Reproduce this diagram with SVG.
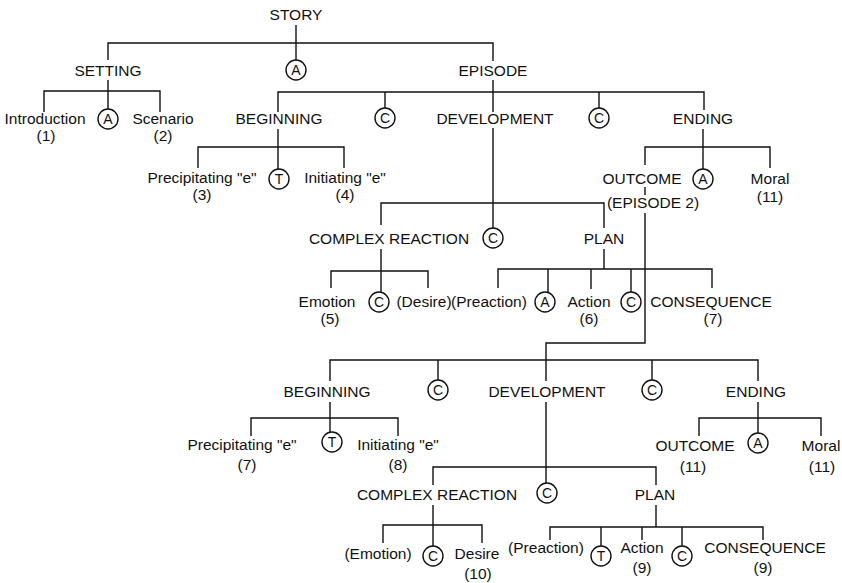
<svg xmlns="http://www.w3.org/2000/svg" width="842" height="583" viewBox="0 0 842 583">
<style>
text{font-family:"Liberation Sans",Arial,Helvetica,sans-serif;font-size:15.5px;fill:#111;text-anchor:middle}
text.s{font-size:14px}
.ln{fill:none;stroke:#111;stroke-width:1.4}
.cc{fill:#fff;stroke:#111;stroke-width:1.4}
</style>
<rect width="842" height="583" fill="#fff"/>
<g id="connectors" class="ln">
<path d="M296 25V61M108 60V43H493V61"/>
<path d="M108 80V110M44 112V91H160V112"/>
<path d="M493 80V112M278 112V92H704V110M385 92V109M599 92V109"/>
<path d="M278 129V170M198 168V147H344V168"/>
<path d="M703 129V170M645 165V147H770V168"/>
<path d="M645 187V195M645 213V343H546V381"/>
<path d="M493 128V229M381 225V203H604V228"/>
<path d="M381 249V293M331 288V271H428V288"/>
<path d="M604 249V269M498 288V269H712V288M548 269V293M591 269V289M631 269V293"/>
<path d="M330 381V360H758V381M438 360V381M652 360V381"/>
<path d="M330 402V433M251 436V418H398V436"/>
<path d="M758 402V434M699 436V418H821V436"/>
<path d="M546 402V484M433 485V467H656V485"/>
<path d="M433 505V547M383 543V525H482V543"/>
<path d="M656 505V527M550 540V527H763V540M601 527V547M642 527V540M682 527V547"/>
</g>
<g id="story"><text x="296" y="20">STORY</text></g>
<g id="a0"><circle class="cc" cx="296" cy="70" r="10"/><text class="s" x="296" y="75">A</text></g>
<g id="setting"><text x="108" y="76">SETTING</text></g>
<g id="episode"><text x="493" y="76">EPISODE</text></g>
<g id="introduction"><text x="45" y="124">Introduction</text><text x="46" y="141">(1)</text></g>
<g id="a1"><circle class="cc" cx="108" cy="119" r="10"/><text class="s" x="108" y="124">A</text></g>
<g id="scenario"><text x="163" y="124">Scenario</text><text x="163" y="141">(2)</text></g>
<g id="beginning1"><text x="279" y="124">BEGINNING</text></g>
<g id="c1"><circle class="cc" cx="385" cy="118" r="10"/><text class="s" x="385" y="123">C</text></g>
<g id="development1"><text x="495" y="124">DEVELOPMENT</text></g>
<g id="c2"><circle class="cc" cx="599" cy="118" r="10"/><text class="s" x="599" y="123">C</text></g>
<g id="ending1"><text x="703" y="124">ENDING</text></g>
<g id="precipitating1"><text x="202" y="183">Precipitating "e"</text><text x="202" y="200">(3)</text></g>
<g id="t1"><circle class="cc" cx="279" cy="179" r="10"/><text class="s" x="279" y="184">T</text></g>
<g id="initiating1"><text x="345" y="183">Initiating "e"</text><text x="345" y="200">(4)</text></g>
<g id="outcome1"><text x="642" y="184">OUTCOME</text><text x="653" y="208">(EPISODE 2)</text></g>
<g id="a2"><circle class="cc" cx="703" cy="179" r="10"/><text class="s" x="703" y="184">A</text></g>
<g id="moral1"><text x="770" y="184">Moral</text><text x="770" y="202">(11)</text></g>
<g id="complex1"><text x="389" y="244">COMPLEX REACTION</text></g>
<g id="c3"><circle class="cc" cx="493" cy="238" r="10"/><text class="s" x="493" y="243">C</text></g>
<g id="plan1"><text x="604" y="244">PLAN</text></g>
<g id="emotion1"><text x="327" y="307">Emotion</text><text x="330" y="324">(5)</text></g>
<g id="c4"><circle class="cc" cx="379" cy="302" r="10"/><text class="s" x="379" y="307">C</text></g>
<g id="desire1"><text x="424" y="307">(Desire)</text></g>
<g id="preaction1"><text x="489" y="307">(Preaction)</text></g>
<g id="a3"><circle class="cc" cx="545" cy="302" r="10"/><text class="s" x="545" y="307">A</text></g>
<g id="action1"><text x="589" y="307">Action</text><text x="589" y="324">(6)</text></g>
<g id="c5"><circle class="cc" cx="631" cy="302" r="10"/><text class="s" x="631" y="307">C</text></g>
<g id="consequence1"><text x="711" y="307">CONSEQUENCE</text><text x="713" y="324">(7)</text></g>
<g id="beginning2"><text x="327" y="397">BEGINNING</text></g>
<g id="c6"><circle class="cc" cx="438" cy="390" r="10"/><text class="s" x="438" y="395">C</text></g>
<g id="development2"><text x="547" y="397">DEVELOPMENT</text></g>
<g id="c7"><circle class="cc" cx="652" cy="390" r="10"/><text class="s" x="652" y="395">C</text></g>
<g id="ending2"><text x="756" y="397">ENDING</text></g>
<g id="precipitating2"><text x="242" y="450">Precipitating "e"</text><text x="247" y="470">(7)</text></g>
<g id="t2"><circle class="cc" cx="332" cy="442" r="10"/><text class="s" x="332" y="447">T</text></g>
<g id="initiating2"><text x="398" y="450">Initiating "e"</text><text x="398" y="470">(8)</text></g>
<g id="outcome2"><text x="695" y="451">OUTCOME</text><text x="693" y="472">(11)</text></g>
<g id="a4"><circle class="cc" cx="758" cy="443" r="10"/><text class="s" x="758" y="448">A</text></g>
<g id="moral2"><text x="821" y="451">Moral</text><text x="822" y="472">(11)</text></g>
<g id="complex2"><text x="437" y="500">COMPLEX REACTION</text></g>
<g id="c8"><circle class="cc" cx="547" cy="493" r="10"/><text class="s" x="547" y="498">C</text></g>
<g id="plan2"><text x="655" y="500">PLAN</text></g>
<g id="emotion2"><text x="378" y="559">(Emotion)</text></g>
<g id="c9"><circle class="cc" cx="433" cy="556" r="10"/><text class="s" x="433" y="561">C</text></g>
<g id="desire2"><text x="477" y="559">Desire</text><text x="478" y="579">(10)</text></g>
<g id="preaction2"><text x="546" y="553">(Preaction)</text></g>
<g id="t3"><circle class="cc" cx="601" cy="556" r="10"/><text class="s" x="601" y="561">T</text></g>
<g id="action2"><text x="642" y="553">Action</text><text x="642" y="573">(9)</text></g>
<g id="c10"><circle class="cc" cx="682" cy="556" r="10"/><text class="s" x="682" y="561">C</text></g>
<g id="consequence2"><text x="765" y="553">CONSEQUENCE</text><text x="763" y="573">(9)</text></g>
</svg>
